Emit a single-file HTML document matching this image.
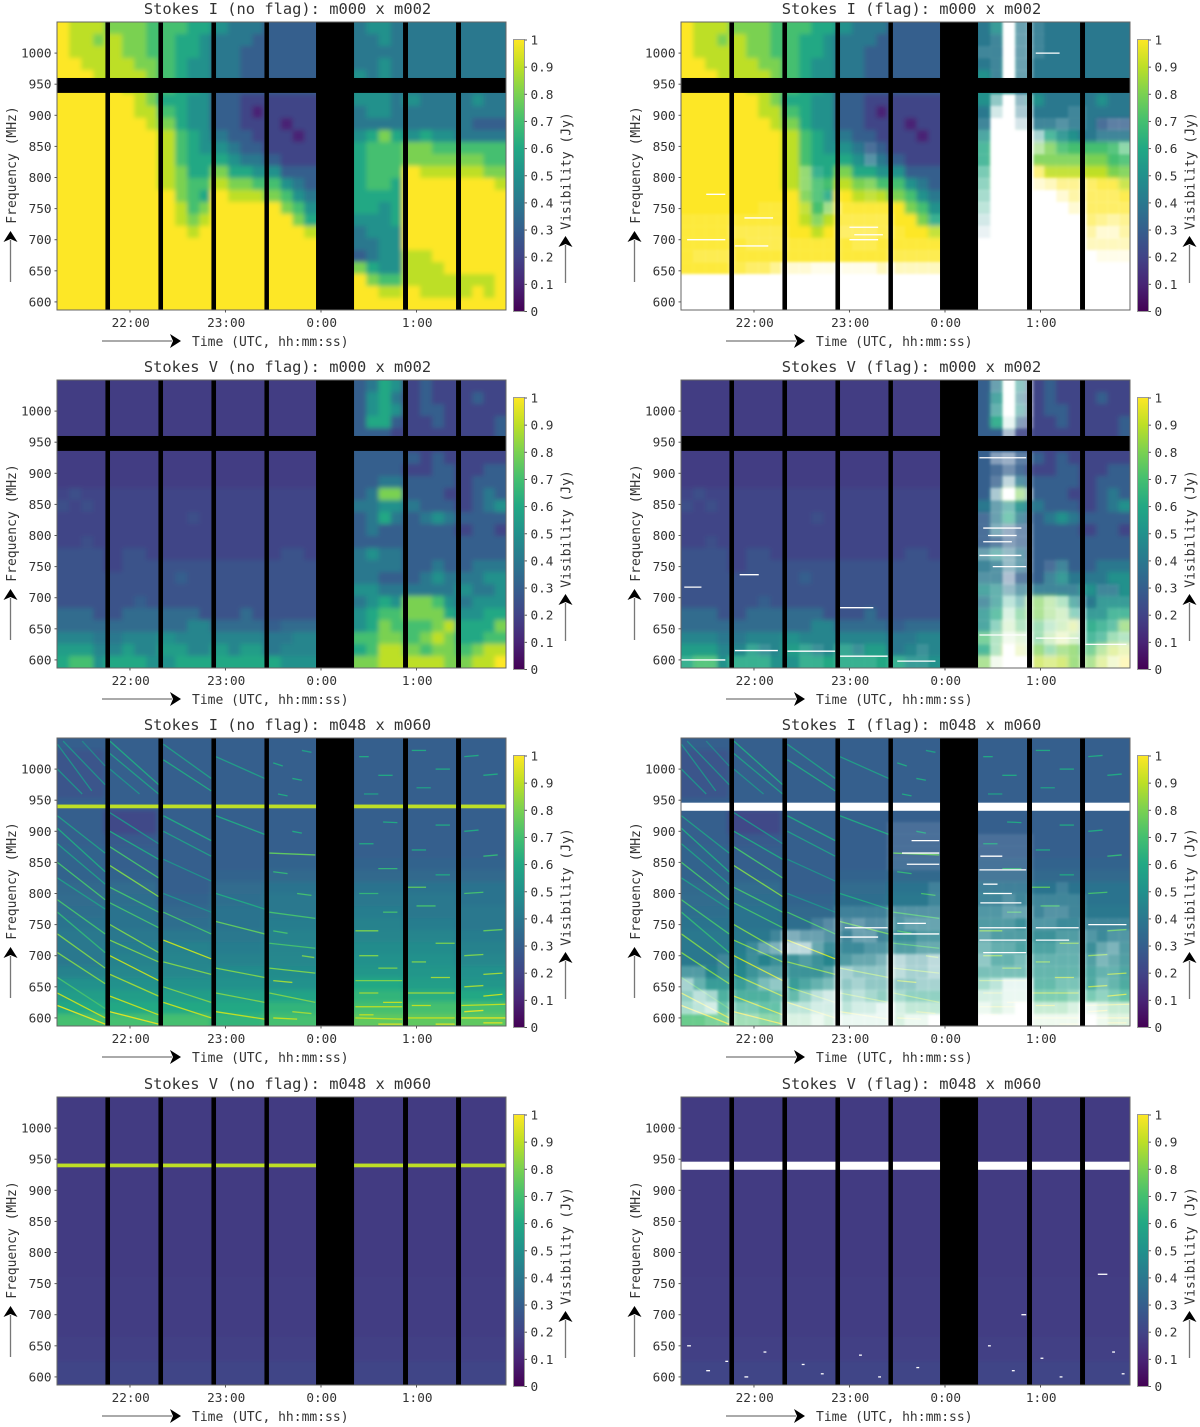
<!DOCTYPE html>
<html lang="en">
<head>
<meta charset="utf-8">
<title>Stokes visibility waterfalls</title>
<style>
html,body{margin:0;padding:0;background:#fff;width:1200px;height:1427px;overflow:hidden}
svg{display:block}
text{font-family:"DejaVu Sans Mono","Liberation Mono",monospace;fill:#333}
</style>
</head>
<body>
<svg id="figure" xmlns="http://www.w3.org/2000/svg" width="1200" height="1427" viewBox="0 0 1200 1427">
<defs>
<linearGradient id="viridisBar" x1="0" y1="1" x2="0" y2="0"></linearGradient>
<filter id="softCells" filterUnits="userSpaceOnUse" x="30" y="0" width="510" height="340"><feGaussianBlur stdDeviation="2.5"/></filter>
<filter id="softFlags" filterUnits="userSpaceOnUse" x="30" y="0" width="510" height="340"><feGaussianBlur stdDeviation="1.4"/></filter>
<clipPath id="plotClip"><rect x="57" y="22" width="449" height="288"/></clipPath>
</defs>
</svg>
<script>
const panelTitles = [
  "Stokes I (no flag): m000 x m002","Stokes I (flag): m000 x m002",
  "Stokes V (no flag): m000 x m002","Stokes V (flag): m000 x m002",
  "Stokes I (no flag): m048 x m060","Stokes I (flag): m048 x m060",
  "Stokes V (no flag): m048 x m060","Stokes V (flag): m048 x m060"
];
const freqTicks = [600,650,700,750,800,850,900,950,1000];
const timeTickHours = [-2,-1,0,1];
const timeTickLabels = ["22:00","23:00","0:00","1:00"];
const colorTicks = [0,0.1,0.2,0.3,0.4,0.5,0.6,0.7,0.8,0.9,1];
const colorTickLabels = ["0","0.1","0.2","0.3","0.4","0.5","0.6","0.7","0.8","0.9","1"];
const viridis = ["#440154","#482475","#414487","#355f8d","#2a788e","#21918c","#22a884","#44bf70","#7ad151","#bddf26","#fde725"];

/* observing segments and gaps, hours relative to 0:00 UTC */
const scanSegments = [[-2.764,-2.257],[-2.209,-1.702],[-1.654,-1.147],[-1.099,-0.592],[-0.545,-0.052],[0.346,0.859],[0.911,1.414],[1.466,1.937]];
const scanGaps = [[-2.257,-2.209],[-1.702,-1.654],[-1.147,-1.099],[-0.592,-0.545],[-0.052,0.346],[0.859,0.911],[1.414,1.466]];
/* missing frequency band on antenna pair m000 x m002, MHz */
const missingBandM000 = [[936,960]];
/* RFI line on m048 x m060: low MHz, high MHz, visibility in tenths */
const rfiBandM048 = [[937,943,9]];
/* band removed by flagging on m048 x m060, MHz */
const flaggedBandM048 = [[933,946]];

/* visibility in tenths of a Jy: rows run from 1050 MHz down to 587 MHz, columns across the scans */
const gridIM000 = [
[10,9,9,9, 8,8,8,7, 7,7,6,6, 5,4,4,4, 3,3,3,3, 4,5,5,4, 4,4,4,4, 4,4,4,4],
[10,9,9,8, 9,8,8,7, 7,6,6,5, 4,4,4,3, 3,3,3,3, 4,4,5,4, 4,4,4,4, 4,4,4,4],
[10,9,9,9, 9,8,8,7, 7,6,6,5, 4,4,3,3, 3,3,3,3, 4,4,4,4, 4,4,4,4, 4,4,4,4],
[10,10,9,9, 9,9,8,8, 7,6,5,5, 4,4,3,3, 3,3,3,3, 4,4,5,4, 4,4,4,4, 4,4,4,4],
[10,10,10,9, 9,9,9,8, 7,6,5,5, 4,4,3,3, 3,3,3,3, 5,4,5,4, 4,4,4,4, 4,4,4,4],
[10,10,10,10, 10,9,9,8, 7,6,6,5, 3,3,3,3, 3,3,3,3, 5,5,5,4, 4,4,4,4, 4,4,4,4],
[10,10,10,10, 10,10,9,8, 6,6,5,5, 3,3,2,2, 2,2,2,2, 5,5,5,4, 5,4,4,4, 4,5,4,4],
[10,10,10,10, 10,10,9,9, 7,6,5,5, 3,3,2,1, 2,2,2,2, 4,5,5,4, 4,4,4,4, 4,4,4,4],
[10,10,10,10, 10,10,10,9, 8,6,5,5, 3,3,2,2, 2,1,2,2, 4,4,4,4, 4,4,4,4, 4,3,3,3],
[10,10,10,10, 10,10,10,10, 9,7,6,5, 4,3,3,2, 2,2,1,2, 5,6,8,6, 5,6,5,5, 4,4,4,4],
[10,10,10,10, 10,10,10,10, 9,7,6,5, 5,4,3,3, 2,2,2,2, 6,7,7,7, 8,8,7,7, 7,7,7,7],
[10,10,10,10, 10,10,10,10, 9,7,6,6, 6,5,4,4, 3,2,2,2, 6,7,7,7, 8,8,8,8, 8,8,7,7],
[10,10,10,10, 10,10,10,10, 9,8,6,6, 8,6,6,5, 5,3,3,3, 6,7,7,7, 10,9,9,9, 9,9,8,8],
[10,10,10,10, 10,10,10,10, 9,8,7,7, 9,8,8,7, 7,5,4,3, 6,7,7,6, 10,10,10,10, 10,10,10,9],
[10,10,10,10, 10,10,10,10, 10,8,7,6, 10,9,9,9, 8,7,5,4, 6,6,6,6, 10,10,10,10, 10,10,10,10],
[10,10,10,10, 10,10,10,10, 10,9,7,8, 10,10,10,10, 10,8,7,5, 6,6,5,6, 10,10,10,10, 10,10,10,10],
[10,10,10,10, 10,10,10,10, 10,9,8,9, 10,10,10,10, 10,10,8,6, 5,5,5,6, 10,10,10,10, 10,10,10,10],
[10,10,10,10, 10,10,10,10, 10,10,9,10, 10,10,10,10, 10,10,10,9, 4,5,5,5, 10,10,10,10, 10,10,10,10],
[10,10,10,10, 10,10,10,10, 10,10,10,10, 10,10,10,10, 10,10,10,10, 4,4,5,5, 10,10,10,10, 10,10,10,10],
[10,10,10,10, 10,10,10,10, 10,10,10,10, 10,10,10,10, 10,10,10,10, 3,4,5,5, 9,9,10,10, 10,10,10,10],
[10,10,10,10, 10,10,10,10, 10,10,10,10, 10,10,10,10, 10,10,10,10, 8,6,5,5, 9,9,9,10, 10,10,10,10],
[10,10,10,10, 10,10,10,10, 10,10,10,10, 10,10,10,10, 10,10,10,10, 10,8,7,7, 9,9,9,9, 9,9,9,10],
[10,10,10,10, 10,10,10,10, 10,10,10,10, 10,10,10,10, 10,10,10,10, 10,10,9,9, 10,9,9,9, 9,10,9,10],
[10,10,10,10, 10,10,10,10, 10,10,10,10, 10,10,10,10, 10,10,10,10, 10,10,10,10, 10,10,10,10, 10,10,10,10]
];
const gridVM000 = [
[1.8,1.8,1.8,1.8, 1.8,1.8,1.8,1.8, 1.8,1.8,1.8,1.8, 1.8,1.8,1.8,1.8, 1.8,1.8,1.8,1.8, 3,4,6,5, 2,3,2,2, 2,2,2,2],
[1.8,1.8,1.8,1.8, 1.8,1.8,1.8,1.8, 1.8,1.8,1.8,1.8, 1.8,1.8,1.8,1.8, 1.8,1.8,1.8,1.8, 3,5,6,4, 2,3,2,2, 2,3,2,2],
[1.8,1.8,1.8,1.8, 1.8,1.8,1.8,1.8, 1.8,1.8,1.8,1.8, 1.8,1.8,1.8,1.8, 1.8,1.8,1.8,1.8, 3,5,6,5, 2,3,3,2, 2,2,2,2],
[1.8,1.8,1.8,1.8, 1.8,1.8,1.8,1.8, 1.8,1.8,1.8,1.8, 1.8,1.8,1.8,1.8, 1.8,1.8,1.8,1.8, 3,6,6,3, 2,2,3,2, 2,2,2,3],
[1.8,1.8,1.8,1.8, 1.8,1.8,1.8,1.8, 1.8,1.8,1.8,1.8, 1.8,1.8,1.8,1.8, 1.8,1.8,1.8,1.8, 3,3,3,2, 2,2,2,2, 2,2,2,3],
[1.8,1.8,1.8,1.8, 1.8,1.8,1.8,1.8, 1.8,1.8,1.8,1.8, 1.8,1.8,1.8,1.8, 1.8,1.8,1.8,1.8, 3,3,3,3, 2,2,2,2, 2,2,2,2],
[1.8,1.8,1.8,1.8, 1.8,1.8,1.8,1.8, 1.8,1.8,1.8,1.8, 1.8,1.8,1.8,1.8, 1.8,1.8,1.8,1.8, 3,3,3,3, 3,2,3,2, 2,2,2,2],
[1.8,1.8,1.8,1.8, 1.8,1.8,1.8,1.8, 1.8,1.8,1.8,1.8, 1.8,1.8,1.8,1.8, 1.8,1.8,1.8,1.8, 3,3,3,3, 2,2,3,3, 2,2,3,3],
[1.8,1.8,1.8,1.8, 1.8,1.8,1.8,1.8, 1.8,1.8,1.8,1.8, 1.8,1.8,1.8,1.8, 1.8,1.8,1.8,1.8, 3,3,4,4, 3,3,3,3, 2,3,3,3],
[2,2.4,2,2, 2,2,2,2, 2,2,2,2, 2,2,2,2, 2,2,2,2, 3,4,8,8, 3,3,3,2, 2,3,4,3],
[2.4,2,2.4,2, 2,2,2,2, 2,2,2,2, 2,2,2,2, 2,2,2,2, 4,4,5,5, 4,3,3,3, 2,3,4,5],
[2,2,2,2, 2,2,2,2, 2,2,2.4,2, 2,2,2,2, 2,2,2,2, 3,4,6,4, 3,4,5,4, 3,3,3,3],
[2,2,2,2, 2,2,2,2, 2,2,2,2, 2,2,2,2, 2,2,2,2, 3,4,3,3, 3,3,3,3, 2,3,3,2],
[2,2,2.4,2, 2,2,2,2, 2,2,2,2, 2,2,2,2, 2,2,2,2, 3,3,3,3, 3,3,3,3, 3,3,3,3],
[2.5,2.5,2.5,2.5, 2,2.5,2.5,2, 2,2,2,2, 2,2,2,2, 2,2.5,2.5,2, 4,5,4,4, 3,3,3,3, 3,3,3,3],
[2.5,2.5,2.5,2.5, 2,2.5,2.5,2.5, 2.5,2.5,2.5,2.5, 2.5,2.5,2.5,2.5, 2.5,2.5,2.5,2.5, 4,4,4,4, 3,3,4,3, 3,4,4,4],
[2.5,2.5,2.5,2.5, 2.5,2.5,2.5,2.5, 2.5,3,2.5,2.5, 2.5,2.5,2.5,2.5, 2.5,2.5,2.5,2.5, 4,4,3,3, 3,4,5,4, 4,4,5,5],
[2.5,2.5,2.5,2.5, 2.5,2.5,2.5,2.5, 2.5,2.5,2.5,2.5, 2.5,2.5,2.5,2.5, 2.5,2.5,2.5,2.5, 5,5,4,4, 4,4,4,4, 5,4,4,5],
[2.5,2.5,2.5,2.5, 2.5,2.5,3,2.5, 2.5,2.5,2.5,2.5, 2.5,2.5,2.5,2.5, 2.5,2.5,2.5,2.5, 4,5,6,5, 8,8,7,5, 4,5,5,5],
[3.5,3.5,3.5,2.5, 2.5,3.5,3.5,3.5, 3.5,3.5,3.5,2.5, 2.5,2.5,3.5,2.5, 2.5,2.5,2.5,2.5, 5,6,7,7, 8,8,8,6, 5,5,6,6],
[3.5,3.5,3.5,3.5, 3.5,3.5,3.5,3.5, 3.5,3.5,4.5,4.5, 3.5,3.5,3.5,3.5, 3,3.5,3.5,3.5, 5,6,8,7, 7,7,8,9, 6,6,6,8],
[4.5,4.5,4.5,4, 4,4.5,4.5,4.5, 5,4.5,4.5,4.5, 4.5,4.5,4.5,4.5, 4,4,4.5,4.5, 7,7,8,8, 7,8,9,8, 6,6,7,7],
[5.5,5.5,5.5,4.5, 4.5,5.5,4.5,4.5, 5.5,5.5,4.5,4.5, 5.5,4.5,5.5,5.5, 4,4.5,4.5,4.5, 6,7,9,9, 8,7,8,8, 7,8,9,9],
[6,7,7,5, 6,6,6,5, 5,6,6,6, 6,6,6,6, 6,5,5,5, 8,8,9,9, 9,9,9,8, 8,9,9,10]
];
const gridIM048 = [
[3,3,3,3,3,3,3,3],
[2.6,3,3,3,3,3,3,3],
[2.6,3,3,3,3,3,3,3],
[2.6,3,3,3,3,3,3,3],
[2.6,3,3,3,3,3,3,3],
[3,3,3,3,3,3,3,3],
[3,2.2,3,3,3,3,3,3],
[3,2.2,3,3,3,3,3,3],
[3,2.8,3,3,3,3,3,3],
[3.2,3,3,3,3,3,3,3],
[3.2,3,3,3,3.2,3.2,3.2,3.2],
[3.2,3.2,3,3.2,3.4,3.4,3.4,3.4],
[3.4,3.5,3,3.5,3.8,3.8,3.8,3.8],
[3.5,3.6,3.2,3.6,4,4,4,3.8],
[3.6,3.8,3.4,3.8,4,4.2,4,4],
[3.8,3.8,3.6,3.8,4.2,4.4,4.2,4],
[4,4,4,4,4.4,4.5,4.5,4.2],
[4,4.2,4.4,4.2,4.5,4.8,4.8,4.4],
[4,4.4,4.5,4.4,4.6,5,5,4.6],
[4.4,4.6,4.6,4.8,4.8,5.2,5.2,5],
[5,5,5,5,5,6,5.5,5.2],
[5.5,5.5,5.5,5.6,5.8,6.5,6.2,6],
[6,6,6,6,6.5,7,7,7],
[7,7,7,6.5,7,7.5,7.5,7.5]
];
const gridVM048 = [
[1.7,1.7,1.7,1.7,1.7,1.7,1.7,1.7],
[1.7,1.7,1.7,1.7,1.7,1.7,1.7,1.7],
[1.7,1.7,1.7,1.7,1.7,1.7,1.7,1.7],
[1.7,1.7,1.7,1.7,1.7,1.7,1.7,1.7],
[1.7,1.7,1.7,1.7,1.7,1.7,1.7,1.7],
[1.7,1.7,1.7,1.7,1.7,1.7,1.7,1.7],
[1.7,1.7,1.7,1.7,1.7,1.7,1.7,1.7],
[1.7,1.7,1.7,1.7,1.7,1.7,1.7,1.7],
[1.7,1.7,1.7,1.7,1.7,1.7,1.7,1.7],
[1.7,1.7,1.7,1.7,1.7,1.7,1.7,1.7],
[1.7,1.7,1.7,1.7,1.7,1.7,1.7,1.7],
[1.7,1.7,1.7,1.7,1.7,1.7,1.7,1.7],
[1.7,1.7,1.7,1.7,1.7,1.7,1.7,1.7],
[1.7,1.7,1.7,1.7,1.7,1.7,1.7,1.7],
[1.7,1.7,1.7,1.7,1.7,1.7,1.7,1.7],
[1.8,1.8,1.8,1.8,1.8,1.8,1.8,1.8],
[1.8,1.8,1.8,1.8,1.8,1.8,1.8,1.8],
[1.8,1.8,1.8,1.8,1.8,1.8,1.8,1.8],
[1.8,1.8,1.8,1.8,1.8,1.8,1.8,1.8],
[1.8,1.8,1.8,1.8,1.8,1.8,1.8,1.8],
[1.9,1.9,1.9,1.9,1.9,1.9,1.9,1.9],
[1.9,1.9,1.9,1.9,1.9,1.9,1.9,1.9],
[2,2,2,2,2,2,2,2],
[2,2,2,2,2,2,2,2]
];

/* fraction of flagged samples in tenths: 10 means the whole cell is white */
const flagIM000 = [
[0,0,0,0, 0,0,0,0, 0,0,0,0, 0,0,0,0, 0,0,0,0, 0,1,10,3, 1,0,0,0, 0,0,0,0],
[0,0,0,0, 0,0,0,0, 0,0,0,0, 0,0,0,0, 0,0,0,0, 0,1,10,3, 1,0,0,0, 0,0,0,0],
[0,0,0,0, 0,0,0,0, 0,0,0,0, 0,0,0,0, 0,0,0,0, 1,1,10,3, 1,0,0,0, 0,0,0,0],
[0,0,0,0, 0,0,0,0, 0,0,0,0, 0,0,0,0, 0,0,0,0, 0,1,10,3, 0,0,0,0, 0,0,0,0],
[0,0,0,0, 0,0,0,0, 0,0,0,0, 0,0,0,0, 0,0,0,0, 0,1,10,3, 0,0,0,0, 0,0,0,0],
[0,0,0,0,0,0,0,0],
[0,0,0,0, 0,0,0,0, 0,0,0,0, 0,0,0,0, 0,0,0,0, 0,5,10,5, 0,0,0,0, 0,0,0,0],
[0,0,0,0, 0,0,0,0, 0,0,0,0, 0,0,0,0, 0,0,0,0, 0,8,10,6, 0,0,0,1, 0,0,0,0],
[0,0,0,0, 0,0,0,0, 0,0,0,0, 0,0,0,0, 0,0,0,0, 1,10,10,8, 1,1,2,1, 0,1,2,2],
[0,0,0,0, 0,0,0,0, 0,0,0,0, 0,0,0,0, 0,0,0,0, 2,10,10,10, 6,2,1,0, 0,1,1,1],
[0,0,0,0, 0,0,0,0, 0,0,0,0, 0,0,1,0, 0,0,0,0, 2,10,10,10, 5,2,1,0, 0,0,1,4],
[0,0,0,0, 0,0,0,0, 0,0,0,0, 0,0,2,0, 0,0,0,0, 2,10,10,10, 1,1,1,1, 0,0,0,1],
[0,0,0,0, 0,0,0,0, 0,2,1,0, 0,0,0,0, 0,0,0,0, 4,10,10,10, 4,1,1,1, 0,0,0,1],
[0,0,0,0, 0,0,0,0, 0,2,1,0, 0,0,1,0, 0,0,0,0, 5,10,10,10, 8,7,5,5, 3,2,2,2],
[0,0,0,0, 0,0,0,0, 0,1,1,1, 0,0,1,0, 0,0,0,0, 6,10,10,10, 10,10,8,6, 3,3,3,2],
[0,0,0,0, 0,0,1,1, 0,1,0,3, 1,1,1,1, 0,0,0,0, 7,10,10,10, 10,10,10,8, 3,3,3,3],
[1,1,1,1, 1,1,1,1, 0,0,1,0, 2,2,2,2, 0,0,0,1, 8,10,10,10, 10,10,10,10, 4,5,6,5],
[1,1,1,1, 2,2,2,2, 0,0,0,0, 3,3,3,2, 1,0,0,1, 9,10,10,10, 10,10,10,10, 6,8,8,6],
[1,1,1,1, 1,2,2,2, 1,1,1,1, 1,2,2,1, 1,1,1,1, 10,10,10,10, 10,10,10,10, 7,7,7,7],
[1,2,2,2, 1,1,1,1, 1,1,1,1, 1,1,1,1, 2,2,2,2, 10,10,10,10, 10,10,10,10, 10,9,9,9],
[1,1,1,1, 2,3,3,5, 8,8,9,9, 9,9,9,7, 7,7,7,7, 10,10,10,10, 10,10,10,10, 10,10,10,10],
[10,10,10,10,10,10,10,10],
[10,10,10,10,10,10,10,10],
[10,10,10,10,10,10,10,10]
];
const flagVM000 = [
[0,0,0,0, 0,0,0,0, 0,0,0,0, 0,0,0,0, 0,0,0,0, 0,3,10,5, 0,0,0,0, 0,0,0,0],
[0,0,0,0, 0,0,0,0, 0,0,0,0, 0,0,0,0, 0,0,0,0, 0,2,10,5, 0,0,0,0, 0,0,0,0],
[0,0,0,0, 0,0,0,0, 0,0,0,0, 0,0,0,0, 0,0,0,0, 0,3,10,5, 0,0,0,0, 0,0,0,0],
[0,0,0,0, 0,0,0,0, 0,0,0,0, 0,0,0,0, 0,0,0,0, 0,1,9,4, 0,0,0,0, 0,0,0,0],
[0,0,0,0, 0,0,0,0, 0,0,0,0, 0,0,0,0, 0,0,0,0, 0,0,6,1, 0,0,0,0, 0,0,0,0],
[0,0,0,0,0,0,0,0],
[0,0,0,0, 0,0,0,0, 0,0,0,0, 0,0,0,0, 0,0,0,0, 0,4,5,2, 0,0,0,0, 0,0,0,0],
[0,0,0,0, 0,0,0,0, 0,0,0,0, 0,0,0,0, 0,0,0,0, 0,1,3,1, 0,0,0,0, 0,0,0,0],
[0,0,0,0, 0,0,0,0, 0,0,0,0, 0,0,0,0, 0,0,0,0, 0,2,7,2, 0,0,0,0, 0,0,0,0],
[0,0,0,0, 0,0,0,0, 0,0,0,0, 0,0,0,0, 0,0,0,0, 0,6,10,5, 0,0,0,0, 0,0,0,0],
[0,0,0,0, 0,0,0,0, 0,0,0,0, 0,0,0,0, 0,0,0,0, 0,3,4,1, 0,0,0,0, 0,0,0,0],
[0,0,0,0, 0,0,0,0, 0,0,0,0, 0,0,0,0, 0,0,0,0, 1,3,4,2, 0,0,0,0, 0,0,0,0],
[0,0,0,0, 0,0,0,0, 0,0,0,0, 0,0,0,0, 0,0,0,0, 1,4,5,3, 0,0,0,0, 0,0,0,0],
[0,0,0,0, 0,0,0,0, 0,0,0,0, 0,0,0,0, 0,0,0,0, 1,2,4,3, 0,0,0,0, 0,0,0,0],
[0,0,0,0, 0,0,0,0, 0,0,0,0, 0,0,0,0, 0,0,0,0, 3,4,5,3, 0,0,0,0, 0,0,0,0],
[0,0,0,0, 0,0,0,0, 0,0,0,0, 0,0,0,0, 0,0,0,0, 1,2,5,3, 0,1,1,0, 0,0,0,0],
[0,0,0,0, 0,0,0,0, 0,0,0,0, 0,0,0,0, 0,0,0,0, 2,2,6,2, 0,1,1,0, 0,0,0,0],
[0,0,0,0, 0,0,0,0, 0,0,0,0, 0,0,0,0, 0,0,0,0, 2,3,5,3, 1,1,1,1, 0,1,1,0],
[0,0,0,0, 0,0,0,0, 0,0,0,0, 0,0,0,0, 0,0,0,0, 2,3,7,5, 4,6,6,3, 0,1,1,1],
[0,0,0,0, 0,0,0,0, 0,0,0,0, 0,0,0,0, 0,0,0,0, 2,3,8,5, 4,6,7,5, 1,1,2,2],
[0,0,0,0, 0,0,0,0, 0,0,0,0, 0,0,0,0, 0,0,0,0, 2,5,8,6, 5,7,7,7, 1,2,3,4],
[0,0,0,0, 0,0,0,0, 0,0,0,0, 0,0,0,0, 0,0,0,0, 3,6,9,8, 5,7,8,7, 2,3,5,6],
[0,0,0,0, 0,1,1,0, 0,1,1,0, 1,1,0,0, 0,0,1,0, 2,6,10,8, 3,5,4,3, 3,5,6,7],
[1,1,1,0, 1,1,1,0, 0,1,1,0, 1,1,1,0, 1,1,1,0, 4,9,10,10, 4,5,4,3, 4,6,8,7]
];
const flagIM048 = [
[0,0,0,0,0,0,0,0],
[0,0,0,0,0,0,0,0],
[0,0,0,0,0,0,0,0],
[0,0,0,0,0,0,0,0],
[0,0,0,0,0,0,0,0],
[0,0,0,0,0,0,0,0],
[0,0,0,0,0,0,0,0],
[0,0,0,0,1,0,0,0],
[0,0,0,0,1,1,0,0],
[0,0,0,0,1,1,0,0],
[0,0,0,0,1,1,0,0],
[0,0,0,0,0,1,0,0],
[0,0,0,0, 0,0,0,0, 0,0,0,0, 0,0,0,0, 0,0,0,1, 1,1,1,1, 0,0,1,0, 0,0,0,0],
[0,0,0,0, 0,0,0,0, 0,0,0,0, 0,0,0,0, 0,0,0,1, 1,1,2,1, 1,1,1,1, 0,0,0,0],
[0,0,0,0, 0,0,0,0, 0,0,0,0, 1,1,1,1, 2,2,2,2, 2,2,3,3, 1,2,2,1, 0,0,0,0],
[0,0,0,0, 0,0,0,0, 0,0,1,2, 2,3,2,2, 2,3,3,3, 2,2,2,1, 2,2,1,1, 1,1,1,1],
[0,0,0,0, 0,0,0,1, 4,3,3,2, 1,3,3,1, 1,1,2,2, 3,2,2,2, 1,1,2,2, 2,1,2,2],
[0,0,0,0, 0,1,3,4, 7,7,3,1, 1,1,2,2, 2,2,3,3, 4,3,3,2, 2,2,3,3, 1,3,4,2],
[0,0,0,1, 0,1,0,1, 1,2,1,0, 2,3,3,4, 7,6,6,7, 5,3,3,4, 3,3,3,3, 2,4,3,2],
[2,2,0,1, 0,1,2,2, 1,1,1,2, 6,5,5,5, 7,6,6,7, 4,4,4,4, 3,3,3,3, 2,3,3,2],
[6,3,1,1, 1,2,4,5, 1,2,3,4, 5,6,5,5, 5,5,6,6, 6,7,9,9, 3,3,4,4, 2,4,3,2],
[5,7,6,2, 2,2,2,3, 3,5,7,8, 6,7,6,5, 6,5,5,5, 8,8,9,9, 4,4,4,5, 4,5,4,3],
[6,7,8,3, 4,4,3,3, 7,7,8,8, 7,8,8,9, 8,7,7,7, 9,8,9,10, 7,7,7,8, 9,8,7,7],
[2,2,3,3, 5,5,4,4, 8,8,9,8, 9,9,9,9, 8,9,9,10, 10,10,10,10, 9,9,9,9, 10,9,8,8]
];
const flagNone = [[0,0,0,0,0,0,0,0]];

/* fringe streaks on m048 x m060: start hour, start MHz, end hour, end MHz, visibility in tenths */
const streaksIM048 = [
[-2.76,1040,-2.4,965,5],[-2.7,1045,-2.26,975,5],[-2.5,1045,-2.26,1005,4.5],[-2.76,1000,-2.5,960,5],
[-2.76,925,-2.26,865,5.5],[-2.76,905,-2.26,835,6],[-2.76,880,-2.26,815,5.5],[-2.76,850,-2.26,790,7],
[-2.76,825,-2.26,775,5.5],[-2.76,790,-2.26,735,7],[-2.76,770,-2.26,705,6.5],[-2.76,735,-2.26,680,8],
[-2.76,705,-2.26,655,8],[-2.76,665,-2.26,615,7],[-2.76,640,-2.26,600,9],[-2.76,620,-2.26,590,9.5],
[-2.21,1045,-1.7,975,6],[-2.21,1025,-1.7,960,5.5],[-2.21,1000,-1.9,960,5],[-2.21,930,-1.7,880,5],
[-2.21,900,-1.7,855,6],[-2.21,875,-1.7,825,7],[-2.21,845,-1.7,795,8],[-2.21,810,-1.7,770,7],
[-2.21,785,-1.7,745,7],[-2.21,750,-1.7,705,8],[-2.21,725,-1.7,690,8],[-2.21,700,-1.7,660,9],
[-2.21,670,-1.7,635,8.5],[-2.21,635,-1.7,605,9],[-2.21,610,-1.7,590,9.5],
[-1.65,1040,-1.15,985,5.5],[-1.65,1015,-1.15,965,6],[-1.65,925,-1.15,885,6],[-1.65,900,-1.15,860,5.5],
[-1.65,855,-1.15,820,5],[-1.65,800,-1.15,770,5],[-1.65,770,-1.15,735,7],[-1.65,725,-1.15,695,9],
[-1.65,690,-1.15,670,8],[-1.65,650,-1.15,625,8],[-1.65,625,-1.15,600,9],
[-1.1,1020,-0.59,985,5.5],[-1.1,925,-0.59,895,6],[-1.1,800,-0.59,775,6],[-1.1,755,-0.59,735,7.5],
[-1.1,680,-0.59,665,8],[-1.1,640,-0.59,625,8],[-1.1,610,-0.59,598,9],
[-0.54,640,-0.06,625,8],[-0.54,680,-0.06,672,8],[-0.54,720,-0.06,712,7],[-0.54,770,-0.06,760,7],[-0.54,865,-0.06,862,7.5],
[-0.5,1010,-0.4,1005,6],[-0.3,985,-0.2,982,6],[-0.2,1030,-0.1,1027,5.5],[-0.45,960,-0.35,957,6],[-0.3,900,-0.2,897,6],[-0.5,835,-0.35,832,6.5],
[-0.25,800,-0.1,797,7],[-0.5,740,-0.35,736,7],[-0.2,700,-0.07,697,8],[-0.5,660,-0.3,657,8.5],[-0.3,610,-0.1,607,8.5],[-0.5,600,-0.25,598,9],
[0.36,618,0.85,618,9],[0.36,600,0.85,598,9],[0.36,740,0.6,740,8],[0.36,660,0.85,660,8],
[0.4,1020,0.5,1020,6],[0.6,990,0.75,990,6],[0.45,960,0.6,960,5.5],[0.65,915,0.8,914,6],[0.4,880,0.55,880,6],[0.6,840,0.8,840,6.5],
[0.4,800,0.6,800,6.5],[0.65,770,0.8,770,7],[0.4,700,0.6,700,8],[0.6,680,0.8,680,8],[0.4,640,0.6,640,8.5],[0.65,625,0.85,625,9],[0.4,605,0.55,605,9],[0.6,590,0.85,590,9.5],
[0.91,810,1.1,810,7.5],[0.91,640,1.4,640,8.5],[0.91,600,1.4,600,9],
[0.95,1030,1.1,1030,6],[1.2,1000,1.35,1000,6],[1,970,1.15,970,5.5],[1.2,910,1.35,910,6],[0.95,870,1.1,870,6],[1.2,830,1.35,830,6],
[1,780,1.2,780,7],[1.2,720,1.4,720,8],[0.95,690,1.1,690,8],[1.15,665,1.35,665,8.5],[0.95,620,1.15,620,9],[1.2,590,1.4,590,9.5],
[1.47,620,1.93,622,9],[1.47,600,1.93,600,9.5],
[1.5,1020,1.65,1022,6],[1.7,990,1.85,992,6],[1.5,900,1.65,902,6],[1.7,860,1.85,862,6.5],[1.5,800,1.7,802,7],[1.7,740,1.9,742,7.5],
[1.5,700,1.7,702,8],[1.7,670,1.9,672,8.5],[1.5,650,1.7,652,8.5],[1.7,635,1.9,638,9],[1.5,610,1.7,612,9.5],[1.7,592,1.9,592,9.5]
];
const noStreaks = [];

/* thin runs of flagged samples: start hour, end hour, MHz */
const flagDashesIM000 = [[-2.5,-2.3,773],[-2.1,-1.8,735],[-1.0,-0.7,720],[-1.0,-0.7,700],[-2.7,-2.3,700],[-2.2,-1.85,690],[-0.95,-0.65,708],[0.95,1.2,1000]];
const flagDashesVM000 = [[0.36,0.85,925],[0.4,0.8,812],[0.45,0.75,800],[0.4,0.7,790],[0.36,0.8,768],[0.5,0.85,750],[-2.15,-1.95,737],[-2.73,-2.55,717],[-2.76,-2.3,600],[-2.2,-1.75,615],[-1.65,-1.15,614],[-1.1,-0.6,606],[-0.5,-0.1,598],[-1.1,-0.75,684],[0.36,0.85,640],[0.95,1.4,635],[1.47,1.9,625]];
const flagDashesIM048 = [[-0.35,-0.06,885],[-0.45,-0.06,865],[-0.4,-0.06,847],[0.37,0.6,860],[0.36,0.85,838],[0.4,0.55,815],[0.4,0.7,800],[0.37,0.8,785],[0.36,0.85,745],[0.36,0.85,725],[0.4,0.85,705],[-0.54,-0.06,735],[-1.05,-0.6,745],[-1.1,-0.7,730],[-0.5,-0.2,752],[0.95,1.4,745],[0.95,1.3,725],[1.5,1.9,750]];
const flagDashesVM048 = [[-2.7,-2.66,650],[-2.5,-2.46,610],[-2.3,-2.27,625],[-2.1,-2.06,600],[-1.9,-1.87,640],[-1.5,-1.47,620],[-1.3,-1.27,605],[-0.9,-0.87,635],[-0.7,-0.67,600],[-0.3,-0.27,615],[0.45,0.48,650],[0.7,0.73,610],[1.0,1.03,630],[1.2,1.23,600],[1.6,1.7,765],[1.75,1.78,640],[1.85,1.88,605],[0.8,0.85,700]];
const noDashes = [];

const svg = document.getElementById('figure');
const NS = 'http://www.w3.org/2000/svg';
const plotLeft = 57, plotTop = 22, plotWidth = 449, plotHeight = 288;
const tMin = -2.764, tMax = 1.937, fMin = 587, fMax = 1050;
const rowOffsets = [0,358,716,1075];
const colOffsets = [0,624];

const panels = [
  {grid:gridIM000,flag:null,dashes:noDashes,streaks:noStreaks,black:missingBandM000,rfi:[],white:[]},
  {grid:gridIM000,flag:flagIM000,dashes:flagDashesIM000,streaks:noStreaks,black:missingBandM000,rfi:[],white:[]},
  {grid:gridVM000,flag:null,dashes:noDashes,streaks:noStreaks,black:missingBandM000,rfi:[],white:[]},
  {grid:gridVM000,flag:flagVM000,dashes:flagDashesVM000,streaks:noStreaks,black:missingBandM000,rfi:[],white:[]},
  {grid:gridIM048,flag:null,dashes:noDashes,streaks:streaksIM048,black:[],rfi:rfiBandM048,white:[]},
  {grid:gridIM048,flag:flagIM048,dashes:flagDashesIM048,streaks:streaksIM048,black:[],rfi:[],white:flaggedBandM048},
  {grid:gridVM048,flag:null,dashes:noDashes,streaks:noStreaks,black:[],rfi:rfiBandM048,white:[]},
  {grid:gridVM048,flag:flagNone,dashes:flagDashesVM048,streaks:noStreaks,black:[],rfi:[],white:flaggedBandM048}
];

function xScale(t){ return plotLeft + (t - tMin) * plotWidth / (tMax - tMin); }
function yScale(f){ return plotTop + (fMax - f) * plotHeight / (fMax - fMin); }
function cbScale(v){ return 311.5 - v * 271.5; }

function hexToRgb(h){ return [parseInt(h.slice(1,3),16),parseInt(h.slice(3,5),16),parseInt(h.slice(5,7),16)]; }
function colorOf(tenths){
  const v = Math.max(0,Math.min(10,tenths));
  const i = Math.min(9,Math.floor(v));
  const a = hexToRgb(viridis[i]), b = hexToRgb(viridis[i+1]), k = v - i;
  return 'rgb(' + a.map(function(c,j){ return Math.round(c + (b[j]-c)*k); }).join(',') + ')';
}
function mk(tag, attrs, parent){
  const e = document.createElementNS(NS, tag);
  for (const k in attrs) e.setAttribute(k, attrs[k]);
  parent.appendChild(e);
  return e;
}

const gradient = document.getElementById('viridisBar');
viridis.forEach(function(c,i){
  mk('stop',{offset:(i*10)+'%','stop-color':c},gradient);
});

function drawCells(parent, rows, painter){
  const rowH = (fMax - fMin) / rows.length;
  const bleed = 6;
  rows.forEach(function(row,r){
    const perSeg = row.length / scanSegments.length;
    row.forEach(function(val,c){
      const seg = scanSegments[Math.floor(c / perSeg)];
      const w = (seg[1] - seg[0]) / perSeg;
      const t0 = seg[0] + (c % perSeg) * w;
      const f1 = fMax - r * rowH;
      let x = xScale(t0), y = yScale(f1);
      let cw = xScale(t0 + w) - x, ch = yScale(f1 - rowH) - y;
      if (c % perSeg === 0) { x -= bleed; cw += bleed; }
      if (c % perSeg === perSeg - 1) { cw += bleed; }
      if (r === 0) { y -= bleed; ch += bleed; }
      if (r === rows.length - 1) { ch += bleed; }
      painter(val, x, y, cw, ch, parent);
    });
  });
}
function paintValue(val,x,y,w,h,parent){
  const cell = mk('rect',{x:x,y:y,width:w+0.4,height:h+0.4,fill:colorOf(val)},parent);
  
  
}
function paintFlag(val,x,y,w,h,parent){
  if (val <= 0) return;
  const cell = mk('rect',{x:x,y:y,width:w+0.4,height:h+0.4,fill:'#fff','fill-opacity':val/10},parent);
  
  
}
function drawBand(parent, low, high, fill, name){
  const band = mk('rect',{x:plotLeft,y:yScale(high),width:plotWidth,height:yScale(low)-yScale(high),fill:fill},parent);
  
  
}
function arrowHead(parent,d){
  const head = mk('path',{d:d,fill:'#000'},parent);
  
  
}

panels.forEach(function(p,idx){
  const g = mk('g',{transform:'translate('+colOffsets[idx%2]+','+rowOffsets[Math.floor(idx/2)]+')'},svg);
  
  

  const title = mk('text',{x:287.5,y:14,'text-anchor':'middle','font-size':15.4},g);
  
  
  title.textContent = panelTitles[idx];

  const heat = mk('g',{'clip-path':'url(#plotClip)'},g);
  
  

  const cells = mk('g',{filter:'url(#softCells)'},heat);
  
  
  drawCells(cells,p.grid,paintValue);

  p.streaks.forEach(function(s){
    const line = mk('line',{x1:xScale(s[0]),y1:yScale(s[1]),x2:xScale(s[2]),y2:yScale(s[3]),stroke:colorOf(s[4]),'stroke-width':1.3},heat);
    
    
  });
  p.rfi.forEach(function(b){
    const band = mk('rect',{x:plotLeft,y:yScale(b[1]),width:plotWidth,height:yScale(b[0])-yScale(b[1]),fill:colorOf(b[2])},heat);
    
    
  });
  if (p.flag) {
    const flags = mk('g',{filter:'url(#softFlags)'},heat);
    
    
    drawCells(flags,p.flag,paintFlag);
  }
  p.dashes.forEach(function(d){
    const dash = mk('line',{x1:xScale(d[0]),x2:xScale(d[1]),y1:yScale(d[2]),y2:yScale(d[2]),stroke:'#fff','stroke-width':1.3},heat);
    
    
  });
  p.white.forEach(function(b){ drawBand(heat,b[0],b[1],'#fff','flagged-band'); });
  p.black.forEach(function(b){ drawBand(heat,b[0],b[1],'#000','missing-frequency-band'); });
  scanGaps.forEach(function(s){
    const gap = mk('rect',{x:xScale(s[0]),y:plotTop,width:xScale(s[1])-xScale(s[0]),height:plotHeight,fill:'#000'},heat);
    
    
  });

  const frame = mk('rect',{x:plotLeft,y:plotTop,width:plotWidth,height:plotHeight,fill:'none',stroke:'#666','stroke-width':1},g);
  
  

  freqTicks.forEach(function(f){
    const y = yScale(f);
    const tick = mk('line',{x1:54.5,x2:plotLeft,y1:y,y2:y,stroke:'#555','stroke-width':1},g);
    
    
    const lab = mk('text',{x:51.5,y:y+4.5,'text-anchor':'end','font-size':12.7},g);
    
    
    lab.textContent = f;
  });
  timeTickHours.forEach(function(t,i){
    const x = xScale(t);
    const tick = mk('line',{x1:x,x2:x,y1:plotTop+plotHeight,y2:plotTop+plotHeight+2.5,stroke:'#555','stroke-width':1},g);
    
    
    const lab = mk('text',{x:x+0.7,y:327,'text-anchor':'middle','font-size':12.7},g);
    
    
    lab.textContent = timeTickLabels[i];
  });

  const xTitle = mk('text',{x:192,y:346,'font-size':13},g);
  
  
  xTitle.textContent = 'Time (UTC, hh:mm:ss)';
  const xLine = mk('line',{x1:102,y1:341,x2:172,y2:341,stroke:'#777','stroke-width':1.3},g);
  
  
  arrowHead(g,'M181 341 L170 334 L173 341 L170 348 Z');

  const yTitle = mk('text',{x:0,y:0,'text-anchor':'middle','font-size':13,transform:'translate(16,165) rotate(-90)'},g);
  
  
  yTitle.textContent = 'Frequency (MHz)';
  const yLine = mk('line',{x1:10.5,y1:282,x2:10.5,y2:240,stroke:'#777','stroke-width':1.3},g);
  
  
  arrowHead(g,'M10.5 231 L3.5 242 L10.5 239 L17.5 242 Z');

  const bar = mk('rect',{x:513.5,y:39.5,width:11,height:272,fill:'url(#viridisBar)',stroke:'#999','stroke-width':1},g);
  
  
  colorTicks.forEach(function(v,i){
    const y = cbScale(v);
    const tick = mk('line',{x1:524.5,x2:527,y1:y,y2:y,stroke:'#555','stroke-width':1},g);
    
    
    const lab = mk('text',{x:530.5,y:y+4.5,'font-size':12.7},g);
    
    
    lab.textContent = colorTickLabels[i];
  });
  const cbTitle = mk('text',{x:0,y:0,'text-anchor':'middle','font-size':13,transform:'translate(570.5,171) rotate(-90)'},g);
  
  
  cbTitle.textContent = 'Visibility (Jy)';
  const cbLine = mk('line',{x1:565.5,y1:283,x2:565.5,y2:245,stroke:'#777','stroke-width':1.3},g);
  
  
  arrowHead(g,'M565.5 236 L558.5 247 L565.5 244 L572.5 247 Z');
});
</script>
</body>
</html>
